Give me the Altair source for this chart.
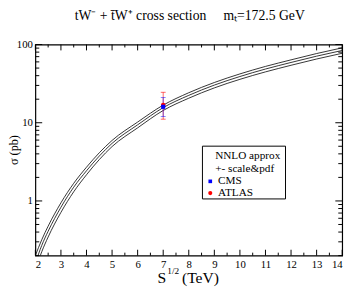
import altair as alt
import pandas as pd

# ---- data ----
sqrt_s = [2.0, 2.25, 2.5, 3.0, 3.5, 4.0, 4.5, 5.0, 6.0, 7.0, 8.0, 9.0, 10.0, 11.0, 12.0, 13.0, 14.0]
central = [0.16, 0.27, 0.41, 0.83, 1.5, 2.43, 3.75, 5.45, 9.4, 15.6, 22.4, 30.3, 39.0, 48.6, 59.0, 71.0, 84.0]
upper = [0.2, 0.319, 0.476, 0.946, 1.68, 2.70, 4.13, 5.94, 10.2, 16.8, 24.2, 32.7, 42.1, 52.5, 63.7, 76.7, 90.7]
lower = [0.131, 0.224, 0.346, 0.714, 1.31, 2.16, 3.38, 4.96, 8.6, 14.35, 20.6, 27.9, 35.9, 44.7, 54.3, 65.3, 77.3]

exp_names = ["ATLAS", "CMS"]
exp_x = [7.0, 7.0]
exp_val = [16.8, 16.0]
exp_lo = [11.1, 12.0]
exp_hi = [24.5, 21.0]

x_major = list(range(2, 15))
x_minor = [2.5 + i for i in range(12)]
y_major = [1, 10, 100]
y_minor = [0.2, 0.3, 0.4, 0.5, 0.6, 0.7, 0.8, 0.9,
           2, 3, 4, 5, 6, 7, 8, 9,
           20, 30, 40, 50, 60, 70, 80, 90]

legend_labels = ["NNLO approx", "+- scale&pdf", "CMS", "ATLAS"]
title_text = "tW\u207b + t\u0304W\u207a cross section\u00a0\u00a0\u00a0\u00a0\u00a0m\u209c=172.5 GeV"

W, H = 314, 216
FONT = "Liberation Serif"

xs = alt.Scale(domain=[2, 14], nice=False, zero=False)
ys = alt.Scale(type="log", domain=[0.2, 100], nice=False)

AX_X = alt.Axis(values=x_major, ticks=False, domain=False, grid=False,
                labelFont=FONT, labelFontSize=11, labelColor="black",
                labelOverlap=False, labelPadding=3, title=None)
AX_Y = alt.Axis(values=y_major, format="~g", ticks=False, domain=False,
                grid=False, labelFont=FONT, labelFontSize=11,
                labelOverlap=False, labelColor="black", labelPadding=3, title=None)


def X(f):
    return alt.X(f, scale=xs, axis=AX_X)


def Y(f):
    return alt.Y(f, scale=ys, axis=AX_Y)


rows = []
for name, arr in (("central", central), ("upper", upper), ("lower", lower)):
    for s, v in zip(sqrt_s, arr):
        rows.append({"s": s, "sigma": v, "band": name})
curve_df = pd.DataFrame(rows)

curves = alt.Chart(curve_df).mark_line(color="black", strokeWidth=0.8, clip=True, interpolate="monotone").encode(
    x=X("s:Q"), y=Y("sigma:Q"), detail="band:N",
)

exp_df = pd.DataFrame({"exp": exp_names, "s": exp_x, "val": exp_val, "lo": exp_lo, "hi": exp_hi})
atlas_df = exp_df[exp_df.exp == "ATLAS"]
cms_df = exp_df[exp_df.exp == "CMS"]


def errbar(df, color, op):
    bar = alt.Chart(df).mark_rule(color=color, strokeWidth=1, opacity=op).encode(
        x=X("s:Q"), y=Y("lo:Q"), y2="hi:Q")
    cap_lo = alt.Chart(df).mark_tick(color=color, orient="horizontal", size=5, thickness=1, opacity=op).encode(
        x=X("s:Q"), y=Y("lo:Q"))
    cap_hi = alt.Chart(df).mark_tick(color=color, orient="horizontal", size=5, thickness=1, opacity=op).encode(
        x=X("s:Q"), y=Y("hi:Q"))
    return [bar, cap_lo, cap_hi]


atlas_pt = alt.Chart(atlas_df).mark_point(shape="circle", filled=True, color="red", size=22, opacity=1).encode(
    x=X("s:Q"), y=Y("val:Q"))
cms_pt = alt.Chart(cms_df).mark_point(shape="square", filled=True, color="blue", size=18, opacity=1).encode(
    x=X("s:Q"), y=Y("val:Q"))


def xticks(vals, y0, y1):
    return alt.Chart(pd.DataFrame({"v": vals})).mark_rule(color="black", strokeWidth=1).encode(
        x=X("v:Q"), y=alt.value(y0), y2=alt.value(y1))


def yticks(vals, x0, x1):
    return alt.Chart(pd.DataFrame({"v": vals})).mark_rule(color="black", strokeWidth=1).encode(
        y=Y("v:Q"), x=alt.value(x0), x2=alt.value(x1))


ticks = [
    xticks(x_major, H, H - 6), xticks(x_minor, H, H - 3),
    xticks(x_major, 0, 6), xticks(x_minor, 0, 3),
    yticks(y_major, 0, 7), yticks(y_minor, 0, 4),
    yticks(y_major, W, W - 7), yticks(y_minor, W, W - 4),
]


def text(t, x, y, size=11, align="left", angle=0, baseline="middle"):
    return alt.Chart(pd.DataFrame({"t": [t]})).mark_text(
        font=FONT, fontSize=size, align=align, baseline=baseline, color="black", angle=angle
    ).encode(text="t:N", x=alt.value(x), y=alt.value(y))


legend_box = alt.Chart(pd.DataFrame({"a": [0]})).mark_rect(fill="white", stroke="black", strokeWidth=1).encode(
    x=alt.value(171), x2=alt.value(256), y=alt.value(104), y2=alt.value(158))
leg_sq = alt.Chart(pd.DataFrame({"a": [0]})).mark_point(shape="square", filled=True, color="blue", size=14, opacity=1).encode(
    x=alt.value(179), y=alt.value(140))
leg_ci = alt.Chart(pd.DataFrame({"a": [0]})).mark_point(shape="circle", filled=True, color="red", size=18, opacity=1).encode(
    x=alt.value(179), y=alt.value(152))

texts = [
    text(title_text, W / 2 + 1, -29, size=14, align="center"),
    text("\u03c3 (pb)", -22, H / 2, size=12.5, align="center", angle=270),
    text("S", 125, H + 28, size=16, baseline="alphabetic"),
    text("1/2", 135, H + 19, size=9.5, baseline="alphabetic"),
    text("(TeV)", 150, H + 28, size=16, baseline="alphabetic"),
    text(legend_labels[0], 184, 114, size=11.5),
    text(legend_labels[1], 184, 127, size=11.5),
    text(legend_labels[2], 187, 140, size=11.5),
    text(legend_labels[3], 187, 152, size=11.5),
]

layers = [curves] + ticks + errbar(atlas_df, "red", 0.6) + errbar(cms_df, "blue", 0.5) + \
    [atlas_pt, cms_pt, legend_box, leg_sq, leg_ci] + texts

chart = alt.layer(*layers).properties(
    width=W, height=H,
    autosize=alt.AutoSizeParams(type="none"),
    padding={"left": 28, "top": 34, "right": 8, "bottom": 40},
).configure_view(stroke="black", strokeWidth=1.2)

chart.save("out.html", embed_options={"renderer": "svg", "actions": False})
